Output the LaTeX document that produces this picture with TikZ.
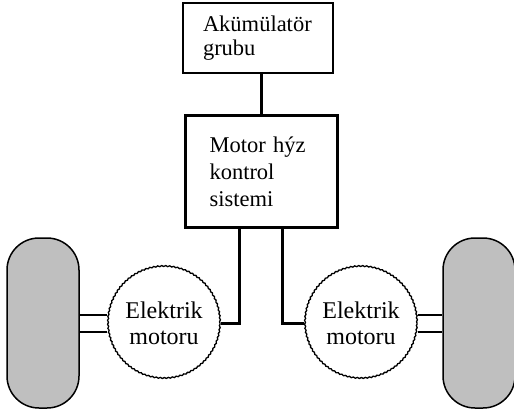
\documentclass[tikz,border=0pt]{standalone}
\usepackage{fontspec}
\setmainfont{Liberation Serif}
\usetikzlibrary{positioning, decorations.pathmorphing}

\tikzset{
  blok/.style={draw, rectangle, align=left, inner sep=0pt},
  motor/.style={draw, circle, minimum size=112pt, inner sep=0pt, align=center,
    line width=1.3pt, decorate, decoration={snake, amplitude=0.5pt, segment length=4pt},
    font=\fontsize{24}{26}\selectfont},
  teker/.style={draw, rectangle, rounded corners=32pt, fill=black!25, line width=1.5pt,
    minimum width=72pt, minimum height=170pt, inner sep=0pt},
  hat/.style={line width=3pt},
  mil/.style={line width=2.6pt}
}

\begin{document}
\begin{tikzpicture}[x=1pt, y=-1pt]
  \useasboundingbox (0,0) rectangle (514,413);
  % kutular
  \node (aku)[blok, line width=1.5pt, minimum width=150pt, minimum height=70pt,
    text width=110pt, font=\fontsize{22.5}{24}\selectfont] at (258,38)
    {Akümülatör\\grubu};
  \node (kontrol)[blok, line width=3pt, minimum width=152pt, minimum height=112pt,
    text width=104pt, font=\fontsize{22.5}{27}\selectfont] at (261.5,171.5)
    {Motor hýz\\kontrol\\sistemi};
  % motorlar ve tekerler
  \node (motorS)[motor] at (164,323) {Elektrik\\motoru};
  \node (motorD)[motor] at (361,323) {Elektrik\\motoru};
  \node (tekerS)[teker] at (43,323) {};
  \node (tekerD)[teker] at (479,323) {};
  % baglantilar
  \draw[hat] (kontrol.north) -- (kontrol.north |- aku.south);
  \draw[hat] ([xshift=-22pt]kontrol.south) |- (motorS.east);
  \draw[hat] ([xshift=21pt]kontrol.south) |- (motorD.west);
  \draw[mil] ([yshift=8pt]tekerS.east) -- ([yshift=8pt]motorS.west);
  \draw[mil] ([yshift=-9pt]tekerS.east) -- ([yshift=-9pt]motorS.west);
  \draw[mil] ([yshift=8pt]motorD.east) -- ([yshift=8pt]tekerD.west);
  \draw[mil] ([yshift=-9pt]motorD.east) -- ([yshift=-9pt]tekerD.west);
\end{tikzpicture}
\end{document}
